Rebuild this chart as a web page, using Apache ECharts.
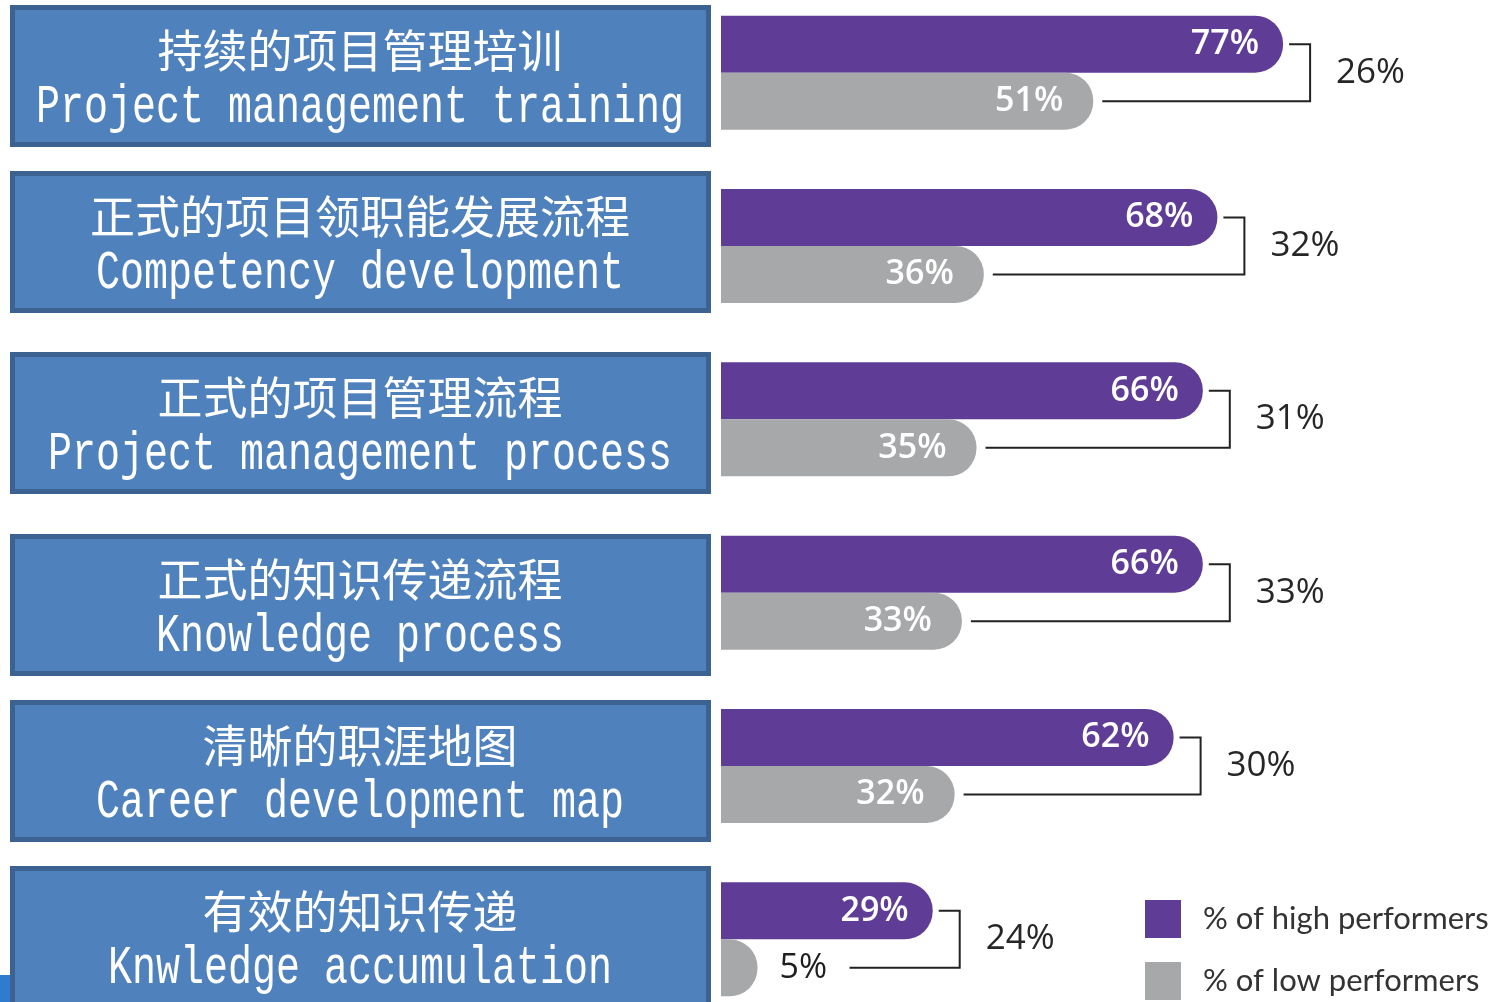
<!DOCTYPE html>
<html>
<head>
<meta charset="utf-8">
<title>high vs low performers</title>
<script src="https://cdn.jsdelivr.net/npm/echarts@6/dist/echarts.min.js"></script>
<style>
  html, body { margin: 0; padding: 0; background: #fff; }
  #main { width: 1494px; height: 1002px; }
</style>
</head>
<body>
<div id="main"></div>
<script>
// 类别（中英文）
var namesCn = ['持续的项目管理培训', '正式的项目领职能发展流程', '正式的项目管理流程', '正式的知识传递流程', '清晰的职涯地图', '有效的知识传递'];
var namesEn = ['Project management training', 'Competency development', 'Project management process', 'Knowledge process', 'Career development map', 'Knwledge accumulation'];
// 高绩效 / 低绩效 百分比
var highValues = [77, 68, 66, 66, 62, 29];
var lowValues = [51, 36, 35, 33, 32, 5];
// 差值
var diffValues = [26, 32, 31, 33, 30, 24];
var seriesNames = ['% of high performers', '% of low performers'];

// 左侧蓝框位置（版面，不是数据）
var boxTops = [5, 171, 352, 534, 700, 866];

var myChart = echarts.init(document.getElementById('main'));

var graphics = [];
for (let i = 0; i < namesCn.length; i++) {
    var t = boxTops[i];
    graphics.push({
        type: 'rect',
        shape: { x: 12.5, y: t + 2.5, width: 696, height: 137 },
        style: { fill: '#4f81bd', stroke: '#3c6291', lineWidth: 5 }
    });
    graphics.push({
        type: 'text',
        x: 360, y: t + 46,
        style: {
            text: namesCn[i], fill: '#fff', fontSize: 45,
            fontFamily: 'Noto Sans CJK SC', align: 'center', verticalAlign: 'middle'
        }
    });
    graphics.push({
        type: 'text',
        x: 360, y: t + 103,
        scaleY: 1.35,
        style: {
            text: namesEn[i], fill: '#fff', fontSize: 40,
            fontFamily: 'Liberation Mono', align: 'center', verticalAlign: 'middle'
        }
    });
}
// 左下角的小蓝条
graphics.push({ type: 'rect', shape: { x: 0, y: 975, width: 10, height: 27 }, style: { fill: '#2f7bd0' } });

var lowData = lowValues.map(function (v) {
    if (v < 10) {
        return { value: v, label: { position: 'right', color: '#1e1e1e', distance: 22, fontWeight: 'normal' } };
    }
    return v;
});

var bracketData = highValues.map(function (v, i) {
    return [v, lowValues[i], diffValues[i], i];
});

var option = {
    animation: false,
    grid: { left: 721, top: -14, width: 730, height: 1040, outerBoundsMode: 'none' },
    xAxis: { type: 'value', min: 0, max: 100, show: false },
    yAxis: { type: 'category', data: namesEn, inverse: true, show: false },
    legend: {
        orient: 'vertical',
        left: 1145, top: 900,
        padding: 0,
        itemWidth: 36, itemHeight: 38, itemGap: 24,
        icon: 'rect',
        data: seriesNames,
        textStyle: { fontSize: 31, fontFamily: 'Lato', color: '#333', padding: [0, 0, 0, 17] }
    },
    graphic: graphics,
    series: [{
        name: seriesNames[0],
        type: 'bar',
        data: highValues,
        barWidth: 57,
        barGap: '0%',
        itemStyle: { color: '#5f3d96', borderRadius: [0, 28, 28, 0] },
        label: {
            show: true, position: 'insideRight', distance: 24,
            formatter: '{c}%', color: '#fff', fontSize: 34,
            fontFamily: 'Open Sans', fontWeight: 600
        }
    }, {
        name: seriesNames[1],
        type: 'bar',
        data: lowData,
        barWidth: 57,
        barGap: '0%',
        itemStyle: { color: '#a7a8aa', borderRadius: [0, 28, 28, 0] },
        label: {
            show: true, position: 'insideRight', distance: 30,
            formatter: '{c}%', color: '#fff', fontSize: 34,
            fontFamily: 'Open Sans', fontWeight: 600
        }
    }, {
        type: 'custom',
        data: bracketData,
        encode: { x: 0, y: 3 },
        silent: true,
        z: 5,
        renderItem: function (params, api) {
            var high = api.value(0), low = api.value(1), diff = api.value(2), idx = api.value(3);
            var yc = api.coord([0, idx])[1];
            var xHigh = api.coord([high, idx])[0];
            var xLow = api.coord([low, idx])[0];
            var yHigh = yc - 28.5, yLow = yc + 28.5;
            var bx = xHigh + 27;
            var lowStart = low < 10 ? xLow + 92 : xLow + 9;
            return {
                type: 'group',
                children: [{
                    type: 'polyline',
                    shape: { points: [[xHigh + 6, yHigh], [bx, yHigh], [bx, yLow], [lowStart, yLow]] },
                    style: { stroke: '#222', lineWidth: 2, fill: null }
                }, {
                    type: 'text',
                    x: bx + 26, y: yc,
                    style: {
                        text: diff + '%', fill: '#262626', fontSize: 35,
                        fontFamily: 'Open Sans', align: 'left', verticalAlign: 'middle'
                    }
                }]
            };
        }
    }]
};
myChart.setOption(option);
</script>
</body>
</html>
